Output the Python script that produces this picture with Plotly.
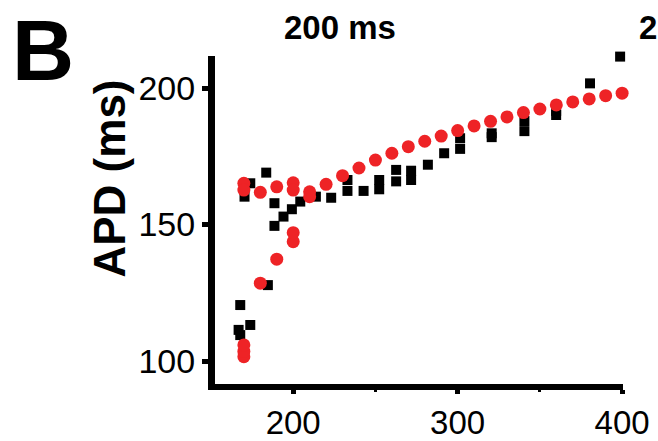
import plotly.graph_objects as go

# Pacing cycle length (ms) vs action potential duration (ms)
exp_cl = [166.8, 167.8, 167.8, 170.4, 173.9, 173.9, 183.6, 184.6, 188.6, 188.6,
          194.1, 199.2, 204.3, 213.8, 223.1, 233.0, 233.0, 242.8, 252.3, 252.3,
          262.6, 262.6, 271.7, 271.7, 281.9, 291.8, 301.5, 301.5, 320.7, 320.7,
          340.6, 340.6, 359.9, 359.9, 380.5, 398.8]
exp_apd = [111.4, 109.5, 120.5, 160.2, 165.1, 113.2, 169.0, 127.8, 157.8, 149.5,
           152.9, 155.6, 158.4, 160.2, 159.8, 166.3, 162.3, 162.3, 166.3, 162.9,
           170.0, 165.8, 169.7, 166.3, 171.9, 176.1, 181.6, 177.7, 183.4, 182.0,
           187.9, 184.2, 191.6, 190.1, 201.7, 211.5]

model_cl = [170, 170, 180, 190, 200, 200, 210, 210, 220, 230, 240, 250, 260, 270,
            280, 290, 300, 310, 320, 330, 340, 350, 360, 370, 380, 390, 400,
            170, 170, 170, 180, 190, 200, 200]
model_apd = [165.1, 162.6, 161.8, 163.8, 165.3, 162.6, 162.0, 160.2, 164.7, 167.9,
             170.7, 173.6, 176.1, 178.5, 180.5, 182.4, 184.4, 186.1, 187.8, 189.4,
             191.0, 192.3, 193.8, 194.9, 196.0, 197.2, 198.1,
             101.6, 103.5, 105.9, 128.5, 137.3, 143.7, 147.0]

x_ticks = [200, 300, 400]
y_ticks = [100, 150, 200]

W, H = 658, 441
L, RGT, TOP, BOT = 215, 623, 56, 384
FONT = "Liberation Sans, Arial, sans-serif"


def px(x):
    return (x - L) / (RGT - L)


def py(y):
    return (BOT - y) / (BOT - TOP)


fig = go.Figure()
fig.add_trace(go.Scatter(
    x=exp_cl, y=exp_apd, mode="markers", cliponaxis=False,
    marker=dict(symbol="square", size=10, color="black", line=dict(width=0)),
))
fig.add_trace(go.Scatter(
    x=model_cl, y=model_apd, mode="markers", cliponaxis=False,
    marker=dict(symbol="circle", size=13, color="#EE2326", line=dict(width=0)),
))

axis_common = dict(
    showline=True, linecolor="black", showgrid=False, zeroline=False,
    ticks="outside", tickcolor="black", automargin=False,
)

fig.update_layout(
    width=W, height=H,
    margin=dict(l=L, r=W - RGT, t=TOP, b=H - BOT, pad=0),
    paper_bgcolor="white", plot_bgcolor="white",
    showlegend=False,
    xaxis=dict(range=[152.45, 400.55], tickvals=x_ticks, linewidth=6,
               ticklen=4, tickwidth=5,
               tickfont=dict(family=FONT, size=33, color="black"),
               minor=dict(tickvals=[250, 350], ticks="outside", ticklen=2,
                          tickwidth=3, tickcolor="black"),
               **axis_common),
    yaxis=dict(range=[91.58, 211.72], tickvals=y_ticks, linewidth=7,
               ticklen=6, tickwidth=5,
               tickfont=dict(family=FONT, size=34, color="black"),
               **axis_common),
    annotations=[
        dict(text="<b>B</b>", x=px(43), y=py(0), xref="paper", yref="paper",
             xanchor="center", yanchor="top", showarrow=False,
             font=dict(family=FONT, size=86, color="black")),
        dict(text="<b>200 ms</b>", x=px(339.5), y=py(27.5), xref="paper", yref="paper",
             xanchor="center", yanchor="middle", showarrow=False,
             font=dict(family=FONT, size=33, color="black")),
        dict(text="<b>2</b>", x=px(637), y=py(27.5), xref="paper", yref="paper",
             xanchor="left", yanchor="middle", showarrow=False,
             font=dict(family=FONT, size=33, color="black")),
        dict(text="<b>APD (ms)</b>", x=px(109), y=py(178.5), xref="paper", yref="paper",
             xanchor="center", yanchor="middle", showarrow=False, textangle=-90,
             font=dict(family=FONT, size=44, color="black")),
    ],
)

fig.write_html("out.html")
